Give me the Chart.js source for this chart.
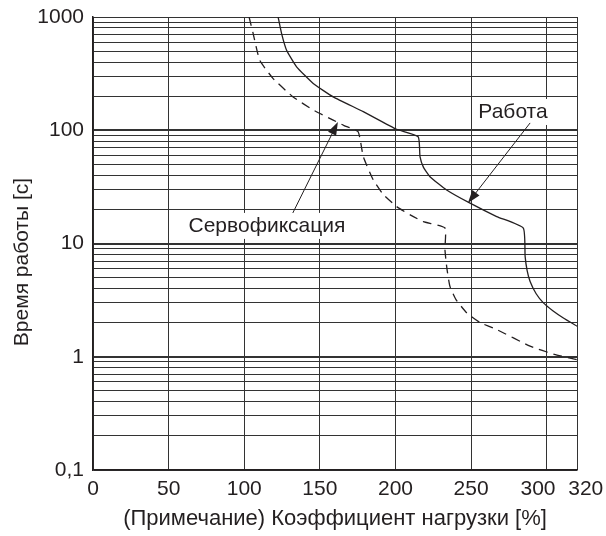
<!DOCTYPE html>
<html>
<head>
<meta charset="utf-8">
<script src="https://cdn.jsdelivr.net/npm/chart.js@4/dist/chart.umd.min.js"></script>
<style>
  body { margin: 0; background: #fff; }
  #wrap { width: 606px; height: 536px; }
</style>
</head>
<body>
<div id="wrap"><canvas id="chart" width="606" height="536"></canvas></div>
<script>
// axis ticks
var xTicks = [0, 50, 100, 150, 200, 250, 300, 320];
var yDecades = [0.1, 1, 10, 100, 1000];

// "Работа" (solid curve)
var rabotaX = [122.4, 124.7, 128, 134.6, 145.6, 158.8, 178.7, 200.7, 215, 216.2, 218.5, 222.8, 233.8, 249.3, 266.9, 284.5, 285.7, 287, 289, 293, 297.8, 304, 311, 320];
var rabotaY = [1000, 714, 509, 363, 259, 197, 146, 102, 87.7, 58.4, 47, 38.9, 29.7, 22.7, 17.3, 13.7, 7.7, 5.8, 4.62, 3.6, 2.99, 2.55, 2.2, 1.86];

// "Сервофиксация" (dashed curve)
var servoX = [103.2, 105.9, 110.2, 119.1, 132.3, 145.6, 158.8, 166, 175.3, 178.7, 185.3, 192, 200.7, 210, 218.4, 232.7, 232.7, 234, 236, 240, 247.1, 256, 266.9, 289, 305, 320];
var servoY = [1000, 714, 416, 286, 197, 151, 123, 110, 97, 58.4, 36.4, 27, 21.2, 17.8, 15.6, 13.7, 8.8, 6, 4.18, 3.2, 2.44, 2.0, 1.74, 1.24, 1.05, 0.94];

// annotations
var noteText = ['Работа', 'Сервофиксация'];
var noteX = [277.7, 115];
var noteY = [145, 14.3];
var arrowFromX = [289, 132.1];
var arrowFromY = [116, 18.6];
var arrowToX = [247.9, 161.9];
var arrowToY = [22.8, 118];

var FONT = '"Liberation Sans", Arial, sans-serif';
var INK = '#231f20';

function toPoints(xs, ys) {
    var pts = [];
    for (var i = 0; i < xs.length; i++) {
        pts.push({x: xs[i], y: ys[i]});
    }
    return pts;
}

function allLogTicks() {
    var t = [];
    for (var d = 0; d < yDecades.length - 1; d++) {
        for (var m = 1; m <= 9; m++) {
            t.push({value: +(yDecades[d] * m).toPrecision(3)});
        }
    }
    t.push({value: 1000});
    return t;
}

function isDecade(v) {
    return yDecades.indexOf(v) >= 0;
}

// titles, label boxes and arrows
var notesPlugin = {
    id: 'notes',
    afterDatasetsDraw: function (chart) {
        var ctx = chart.ctx;
        var xs = chart.scales.x, ys = chart.scales.y;
        ctx.save();
        ctx.font = '21px ' + FONT;
        ctx.textAlign = 'center';
        ctx.textBaseline = 'middle';

        for (var i = 0; i < noteText.length; i++) {
            var px = xs.getPixelForValue(noteX[i]);
            var py = ys.getPixelForValue(noteY[i]);
            var w = ctx.measureText(noteText[i]).width + 10;
            ctx.fillStyle = '#fff';
            ctx.fillRect(px - w / 2, py - 13, w, 26);
            ctx.fillStyle = INK;
            ctx.fillText(noteText[i], px, py);

            // arrow
            var x1 = xs.getPixelForValue(arrowFromX[i]), y1 = ys.getPixelForValue(arrowFromY[i]);
            var x2 = xs.getPixelForValue(arrowToX[i]), y2 = ys.getPixelForValue(arrowToY[i]);
            var a = Math.atan2(y2 - y1, x2 - x1);
            var len = 13, hw = 4.5;
            ctx.strokeStyle = INK;
            ctx.lineWidth = 1;
            ctx.beginPath();
            ctx.moveTo(x1, y1);
            ctx.lineTo(x2 - Math.cos(a) * len * 0.8, y2 - Math.sin(a) * len * 0.8);
            ctx.stroke();
            ctx.fillStyle = INK;
            ctx.beginPath();
            ctx.moveTo(x2, y2);
            ctx.lineTo(x2 - Math.cos(a) * len - Math.sin(a) * hw, y2 - Math.sin(a) * len + Math.cos(a) * hw);
            ctx.lineTo(x2 - Math.cos(a) * len + Math.sin(a) * hw, y2 - Math.sin(a) * len - Math.cos(a) * hw);
            ctx.closePath();
            ctx.fill();
        }

        // axis titles
        var area = chart.chartArea;
        ctx.fillStyle = INK;
        ctx.font = '22px ' + FONT;
        ctx.fillText('(Примечание) Коэффициент нагрузки [%]', (area.left + area.right) / 2, 519);
        ctx.font = '21px ' + FONT;
        ctx.translate(22, 262);
        ctx.rotate(-Math.PI / 2);
        ctx.fillText('Время работы [с]', 0, 0);
        ctx.restore();
    }
};

new Chart(document.getElementById('chart'), {
    type: 'scatter',
    data: {
        datasets: [
            {
                label: 'Работа',
                data: toPoints(rabotaX, rabotaY),
                showLine: true,
                borderColor: INK,
                borderWidth: 1.3,
                pointRadius: 0,
                tension: 0.15
            },
            {
                label: 'Сервофиксация',
                data: toPoints(servoX, servoY),
                showLine: true,
                borderColor: INK,
                borderWidth: 1.3,
                borderDash: [9, 6],
                pointRadius: 0,
                tension: 0.15
            }
        ]
    },
    options: {
        responsive: false,
        animation: false,
        layout: { padding: { top: 17, right: 29, left: 0, bottom: 0 } },
        plugins: {
            legend: { display: false },
            tooltip: { enabled: false }
        },
        scales: {
            x: {
                type: 'linear',
                min: 0,
                max: 320,
                afterBuildTicks: function (scale) {
                    scale.ticks = xTicks.map(function (v) { return {value: v}; });
                },
                afterFit: function (scale) {
                    scale.height = 66;
                    // keep label overhang from shrinking the plot
                    scale.paddingLeft = 0;
                    scale.paddingRight = 0;
                },
                grid: { color: '#333', lineWidth: 1, drawTicks: false },
                border: { color: INK, width: 1.5 },
                ticks: {
                    autoSkip: false,
                    maxRotation: 0,
                    padding: 7,
                    color: INK,
                    font: { size: 21, family: FONT },
                    callback: function (v) {
                        // nudge the last two labels apart like the original
                        if (v === 300) return '300   ';
                        if (v === 320) return '   320';
                        return String(v);
                    }
                }
            },
            y: {
                type: 'logarithmic',
                min: 0.1,
                max: 1000,
                afterBuildTicks: function (scale) {
                    scale.ticks = allLogTicks();
                },
                afterFit: function (scale) {
                    scale.width = 93;
                    scale.paddingTop = 0;
                    scale.paddingBottom = 0;
                },
                grid: {
                    color: '#333',
                    drawTicks: false,
                    lineWidth: function (c) {
                        var v = c.tick ? c.tick.value : 0;
                        return (v === 1 || v === 10 || v === 100) ? 2 : 1;
                    }
                },
                border: { color: INK, width: 1.5 },
                ticks: {
                    autoSkip: false,
                    padding: 9,
                    color: INK,
                    font: { size: 21, family: FONT },
                    callback: function (v) {
                        if (!isDecade(v)) return '';
                        return String(v).replace('.', ',');
                    }
                }
            }
        }
    },
    plugins: [notesPlugin]
});
</script>
</body>
</html>
